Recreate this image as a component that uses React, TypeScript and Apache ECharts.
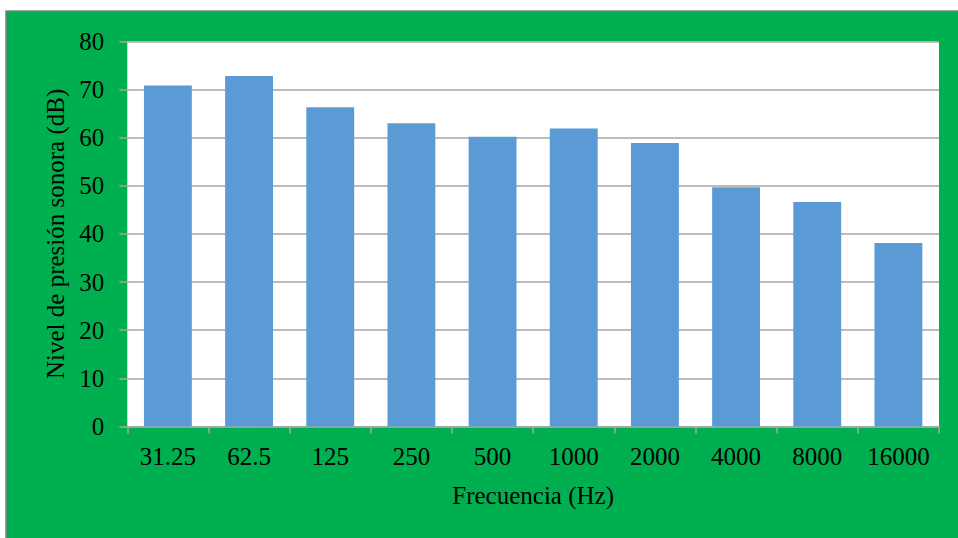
import React, { useEffect, useRef } from "react";
import * as echarts from "echarts";

const categories = ["31.25", "62.5", "125", "250", "500", "1000", "2000", "4000", "8000", "16000"];
const levels = [70.8, 72.8, 66.3, 63.0, 60.2, 61.9, 58.9, 49.7, 46.6, 38.1];
const yTicks = { min: 0, max: 80, interval: 10 };
const xTitle = "Frecuencia (Hz)";
const yTitle = "Nivel de presión sonora (dB)";

const FONT = "'Liberation Serif', 'Times New Roman', serif";

export default function App() {
  const ref = useRef<HTMLDivElement>(null);
  useEffect(() => {
    document.body.style.margin = "0";
    const chart = echarts.init(ref.current!, null, { renderer: "svg" });
    chart.setOption({
      animation: false,
      backgroundColor: "#ffffff",
      graphic: [
        {
          type: "rect",
          z: -10,
          silent: true,
          shape: { x: 6, y: 11, width: 970, height: 560 },
          style: { fill: "#00B050", stroke: "#7f7f7f", lineWidth: 1.5 },
        },
      ],
      grid: {
        left: 127.3,
        top: 41.3,
        right: 19,
        bottom: 111.5,
        show: true,
        backgroundColor: "#ffffff",
        borderWidth: 0,
      },
      xAxis: {
        type: "category",
        data: categories,
        name: xTitle,
        nameLocation: "middle",
        nameGap: 56,
        nameTextStyle: { fontFamily: FONT, fontSize: 25, color: "#000" },
        axisLine: { show: true, lineStyle: { color: "#A6A6A6", width: 1.5 } },
        axisTick: { show: true, interval: 0, length: 7, lineStyle: { color: "#A6A6A6", width: 1.5 } },
        axisLabel: { interval: 0, fontFamily: FONT, fontSize: 25, color: "#000", margin: 17 },
      },
      yAxis: {
        type: "value",
        min: yTicks.min,
        max: yTicks.max,
        interval: yTicks.interval,
        name: yTitle,
        nameLocation: "middle",
        nameGap: 59,
        nameTextStyle: { fontFamily: FONT, fontSize: 25, color: "#000" },
        axisLine: { show: false },
        axisTick: { show: true, length: 8, lineStyle: { color: "#A6A6A6", width: 1.5 } },
        axisLabel: { fontFamily: FONT, fontSize: 25, color: "#000", margin: 23 },
        splitLine: { show: true, lineStyle: { color: "#A6A6A6", width: 1.5 } },
      },
      series: [
        {
          type: "bar",
          data: levels,
          barCategoryGap: "41%",
          itemStyle: { color: "#5B9BD5" },
        },
      ],
    });
    return () => chart.dispose();
  }, []);
  return <div ref={ref} style={{ width: 958, height: 538 }} />;
}
